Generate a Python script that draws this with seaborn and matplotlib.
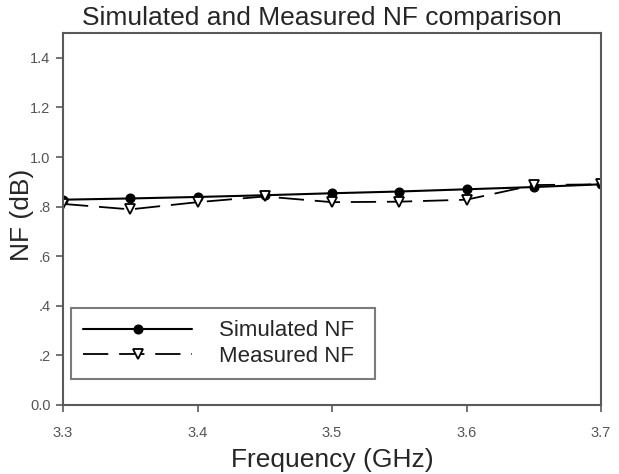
import matplotlib
matplotlib.use("Agg")
import matplotlib.pyplot as plt
import seaborn as sns
import pandas as pd

# --- data ---
FREQ_GHZ = [3.30, 3.35, 3.40, 3.45, 3.50, 3.55, 3.60, 3.65, 3.70]
SIMULATED_NF = [0.828, 0.833, 0.839, 0.846, 0.854, 0.861, 0.870, 0.879, 0.890]
MEASURED_NF = [0.811, 0.789, 0.818, 0.841, 0.818, 0.820, 0.828, 0.887, 0.890]

X_TICKS = [3.3, 3.4, 3.5, 3.6, 3.7]
Y_TICKS = [0.0, 0.2, 0.4, 0.6, 0.8, 1.0, 1.2, 1.4]
Y_TICK_LABELS = ["0.0", ".2", ".4", ".6", ".8", "1.0", "1.2", "1.4"]

TITLE = "Simulated and Measured NF comparison"
X_LABEL = "Frequency (GHz)"
Y_LABEL = "NF (dB)"

# --- style ---
FIG_SIZE = (6.19, 4.74)
DPI = 100
SPINE_COLOR = "#5a5a5a"
TICK_COLOR = "#555555"


def main():
    sns.set_style("white")
    plt.rcParams["font.family"] = ["Liberation Sans", "DejaVu Sans"]

    df = pd.DataFrame({"freq": FREQ_GHZ, "sim": SIMULATED_NF, "meas": MEASURED_NF})

    fig = plt.figure(figsize=FIG_SIZE, dpi=DPI)
    ax = fig.add_axes([0.1018, 0.1456, 0.8692, 0.7846])

    sns.lineplot(data=df, x="freq", y="sim", ax=ax, color="black", linewidth=1.5,
                 marker="o", markersize=6.5, markerfacecolor="black",
                 markeredgecolor="black", label="Simulated NF")
    sns.lineplot(data=df, x="freq", y="meas", ax=ax, color="black", linewidth=1.3,
                 linestyle=(0, (14, 6)), marker="v", markersize=7,
                 markerfacecolor="white", markeredgecolor="black",
                 markeredgewidth=1.3, label="Measured NF")

    ax.set_xlim(3.3, 3.7)
    ax.set_ylim(0.0, 1.5)
    ax.set_xticks(X_TICKS)
    ax.set_xticklabels([f"{t:.1f}" for t in X_TICKS])
    ax.set_yticks(Y_TICKS)
    ax.set_yticklabels(Y_TICK_LABELS)
    ax.tick_params(axis="both", direction="out", length=5, width=1.2,
                   colors=SPINE_COLOR, labelcolor=TICK_COLOR, labelsize=10.5,
                   left=True, bottom=True)
    ax.tick_params(axis="x", pad=10)
    ax.tick_params(axis="y", pad=4)

    for spine in ax.spines.values():
        spine.set_color(SPINE_COLOR)
        spine.set_linewidth(1.5)

    ax.set_title(TITLE, fontsize=19, pad=6, x=0.482)
    ax.set_xlabel(X_LABEL, fontsize=19, labelpad=6)
    ax.set_ylabel(Y_LABEL, fontsize=19)
    ax.yaxis.set_label_coords(-0.054, 0.51)

    leg = ax.legend(loc="lower left", bbox_to_anchor=(0.015, 0.07, 0.565, 0.212),
                    mode="expand", frameon=True, fancybox=False, fontsize=16,
                    handlelength=4.9, handletextpad=1.2, borderpad=0.55,
                    labelspacing=0.2, borderaxespad=0)
    leg.get_frame().set_edgecolor(SPINE_COLOR)
    leg.get_frame().set_linewidth(1.5)

    fig.savefig("out.png", dpi=DPI)
    plt.close(fig)


if __name__ == "__main__":
    main()
